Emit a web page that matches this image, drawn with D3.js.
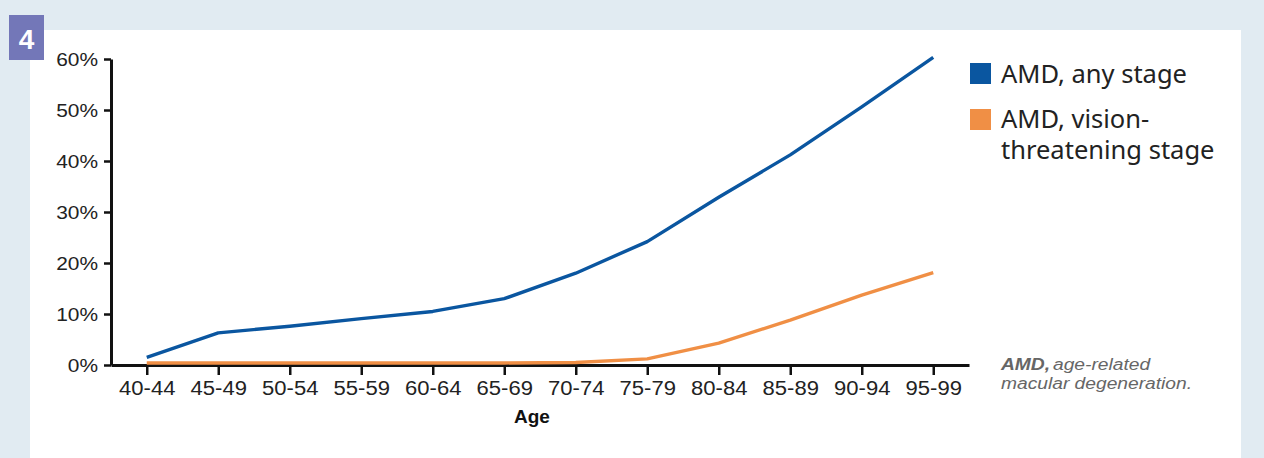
<!DOCTYPE html>
<html><head><meta charset="utf-8">
<script src="https://cdn.jsdelivr.net/npm/d3@7/dist/d3.min.js"></script>
<style>html,body{margin:0;padding:0;background:#e1ebf2;}svg{display:block;}</style>
</head><body><svg id="c" width="1264" height="458"></svg>
<script>
const categories = ["40-44","45-49","50-54","55-59","60-64","65-69","70-74","75-79","80-84","85-89","90-94","95-99"];
const anyStage = [1.5,6.3,7.6,9.1,10.5,13.0,18.0,24.2,32.9,41.2,50.6,60.3];
const visionThreatening = [0.4,0.4,0.4,0.4,0.4,0.4,0.5,1.2,4.3,8.8,13.7,18.1];
const yTicks = [0,10,20,30,40,50,60];
const seriesNames = ["AMD, any stage", ["AMD, vision-","threatening stage"]];
const colors = ["#0a56a0","#f08f45"];

function stretch(sel, f){
  sel.each(function(){
    const w = this.getComputedTextLength();
    d3.select(this).attr("textLength", w*f).attr("lengthAdjust","spacingAndGlyphs");
  });
}

const svg = d3.select("#c");
svg.append("rect").attr("x",0).attr("y",0).attr("width",1264).attr("height",458).attr("fill","#e1ebf2");
svg.append("rect").attr("x",30).attr("y",30).attr("width",1211).attr("height",428).attr("fill","#fff");
svg.append("rect").attr("x",9).attr("y",15).attr("width",35).attr("height",45).attr("fill","#7377b8");
svg.append("text").attr("x",26.5).attr("y",49).attr("text-anchor","middle").attr("fill","#fff")
  .attr("font-family","Liberation Sans, Arial").attr("font-weight","bold").attr("font-size",28).text("4");

const x = d3.scalePoint().domain(categories).range([111,969]).padding(0.5);
const y = d3.scaleLinear().domain([0,60]).range([365,59]);

const font = "Liberation Sans, Arial, sans-serif";
const yAxis = svg.append("g").attr("transform","translate(111,0)")
  .call(d3.axisLeft(y).tickValues(yTicks).tickFormat(d=>d+"%").tickSize(7).tickSizeOuter(0));
yAxis.select(".domain").attr("stroke","#111").attr("stroke-width",3);
yAxis.selectAll(".tick line").attr("stroke","#111").attr("stroke-width",2.5);
yAxis.selectAll(".tick text").attr("font-family",font).attr("font-size",19).attr("fill","#222").attr("x",-13).attr("dy","0.33em");
stretch(yAxis.selectAll(".tick text"), 1.1);

const xAxis = svg.append("g").attr("transform","translate(0,365)")
  .call(d3.axisBottom(x).tickSize(10).tickSizeOuter(0));
xAxis.select(".domain").attr("stroke","#111").attr("stroke-width",3);
xAxis.selectAll(".tick line").attr("stroke","#111").attr("stroke-width",2.5);
xAxis.selectAll(".tick text").attr("font-family",font).attr("font-size",19.5).attr("fill","#222").attr("y",16);
stretch(xAxis.selectAll(".tick text"), 1.13);

svg.append("text").attr("x",532).attr("y",423).attr("text-anchor","middle").attr("font-family",font)
  .attr("font-weight","bold").attr("font-size",19).attr("fill","#111").text("Age");

const line = d3.line().x((d,i)=>x(categories[i])).y(d=>y(d));
[visionThreatening, anyStage].forEach((s,k)=>{
  svg.append("path").datum(s).attr("d",line).attr("fill","none")
    .attr("stroke", colors[1-k]).attr("stroke-width",3.4).attr("stroke-linejoin","round");
});

const lf = "Noto Sans, Open Sans, sans-serif";
svg.append("rect").attr("x",970).attr("y",63).attr("width",21).attr("height",21).attr("fill",colors[0]);
svg.append("text").attr("x",1001).attr("y",83).attr("font-family",lf).attr("font-size",25.5).attr("fill","#222").text(seriesNames[0]);
svg.append("rect").attr("x",970).attr("y",109).attr("width",21).attr("height",21).attr("fill",colors[1]);
const t2 = svg.append("text").attr("font-family",lf).attr("font-size",25.5).attr("fill","#222");
seriesNames[1].forEach((s,i)=>t2.append("tspan").attr("x",1001).attr("y",128+i*31).text(s));

const ff = {family:font, size:16};
const a1 = svg.append("text").attr("x",1001).attr("y",370).attr("font-family",font).attr("font-style","italic")
  .attr("font-weight","bold").attr("font-size",16).attr("fill","#666").text("AMD,");
stretch(a1, 1.2);
const a2 = svg.append("text").attr("x",1053).attr("y",370).attr("font-family",font).attr("font-style","italic")
  .attr("font-size",16).attr("fill","#666").text("age-related");
stretch(a2, 1.2);
const a3 = svg.append("text").attr("x",1001).attr("y",389).attr("font-family",font).attr("font-style","italic")
  .attr("font-size",16).attr("fill","#666").text("macular degeneration.");
stretch(a3, 1.2);
</script></body></html>
